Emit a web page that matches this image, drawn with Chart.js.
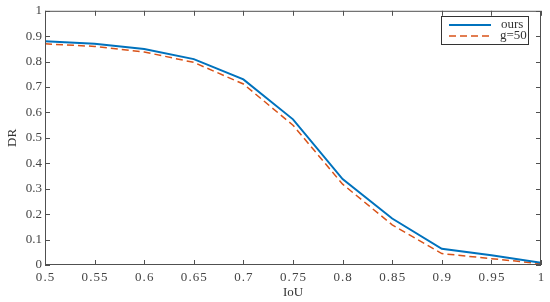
<!DOCTYPE html>
<html>
<head>
<meta charset="utf-8">
<script src="https://cdn.jsdelivr.net/npm/chart.js@4/dist/chart.umd.min.js"></script>
<style>
  html, body { margin: 0; padding: 0; background: #fff; }
  #wrap { width: 550px; height: 302px; }
</style>
</head>
<body>
<div id="wrap"><canvas id="chartCanva" width="550" height="302"></canvas></div>
<script>
var iouValues = [0.5, 0.55, 0.6, 0.65, 0.7, 0.75, 0.8, 0.85, 0.9, 0.95, 1];
var oursDR = [0.88, 0.87, 0.85, 0.81, 0.73, 0.573, 0.338, 0.183, 0.064, 0.038, 0.009];
var g50DR = [0.87, 0.86, 0.838, 0.797, 0.712, 0.55, 0.318, 0.158, 0.045, 0.025, 0.005];
var seriesNames = ['ours', 'g=50'];
var axisColor = '#505050';
var serif = 'Liberation Serif';

function toPoints(ys) {
    return iouValues.map(function (x, i) { return { x: x, y: ys[i] }; });
}

// box round the plot plus inward ticks on all four sides (matlab look)
var boxPlugin = {
    id: 'boxTicks',
    afterDraw: function (chart) {
        var c = chart.ctx, a = chart.chartArea;
        var xs = chart.scales.x, ys = chart.scales.y;
        c.save();
        c.strokeStyle = axisColor;
        c.lineWidth = 1;
        c.strokeRect(a.left + 0.5, a.top + 0.5, a.right - a.left - 1, a.bottom - a.top - 1);
        c.beginPath();
        xs.ticks.forEach(function (t) {
            var px = Math.round(xs.getPixelForValue(t.value)) + 0.5;
            c.moveTo(px, a.bottom); c.lineTo(px, a.bottom - 5);
            c.moveTo(px, a.top); c.lineTo(px, a.top + 5);
        });
        ys.ticks.forEach(function (t) {
            var py = Math.round(ys.getPixelForValue(t.value)) + 0.5;
            c.moveTo(a.left, py); c.lineTo(a.left + 5, py);
            c.moveTo(a.right, py); c.lineTo(a.right - 5, py);
        });
        c.stroke();

        // legend box
        var lx = 441, ly = 16, lw = 87, lh = 28;
        c.fillStyle = '#fff';
        c.fillRect(lx, ly, lw, lh);
        c.strokeStyle = '#333';
        c.strokeRect(lx + 0.5, ly + 0.5, lw, lh);
        chart.data.datasets.forEach(function (ds, i) {
            var yy = ly + 9 + i * 11;
            c.beginPath();
            c.strokeStyle = ds.borderColor;
            c.lineWidth = ds.borderWidth;
            c.setLineDash(ds.borderDash || []);
            c.moveTo(lx + 8, yy); c.lineTo(lx + 50, yy);
            c.stroke();
            c.setLineDash([]);
            c.fillStyle = '#333';
            c.font = '13px "' + serif + '", serif';
            c.textBaseline = 'middle';
            c.textAlign = 'left';
            c.fillText(ds.label, lx + (i === 0 ? 60 : 59), yy);
        });
        c.restore();
    }
};

const config = {
    type: 'line',
    data: {
        datasets: [{
            label: seriesNames[0],
            data: toPoints(oursDR),
            borderColor: '#0072BD',
            borderWidth: 2,
            pointRadius: 0,
            tension: 0,
            fill: false
        }, {
            label: seriesNames[1],
            data: toPoints(g50DR),
            borderColor: '#D95319',
            borderWidth: 1.5,
            borderDash: [7, 4],
            pointRadius: 0,
            tension: 0,
            fill: false
        }]
    },
    options: {
        responsive: false,
        animation: false,
        font: { family: serif },
        layout: { padding: { top: 6, right: 9, left: 0, bottom: 0 } },
        plugins: {
            legend: { display: false },
            tooltip: { enabled: false }
        },
        scales: {
            x: {
                type: 'linear',
                min: 0.5,
                max: 1,
                afterFit: function (s) { s.height = 37; },
                ticks: {
                    stepSize: 0.05,
                    color: '#444',
                    padding: 5,
                    font: { family: serif, size: 13 },
                    callback: function (v) { return String(Math.round(v * 100) / 100).split('').join('\u200A'); }
                },
                grid: { display: false, drawTicks: false },
                border: { display: false },
                title: {
                    display: true,
                    text: 'IoU',
                    color: '#333',
                    font: { family: serif, size: 13 },
                    padding: { top: 0, bottom: 2 }
                }
            },
            y: {
                min: 0,
                max: 1,
                afterFit: function (s) { s.width = 45; },
                ticks: {
                    stepSize: 0.1,
                    color: '#444',
                    padding: 3,
                    font: { family: serif, size: 13 },
                    callback: function (v) { return String(Math.round(v * 10) / 10); }
                },
                grid: { display: false, drawTicks: false },
                border: { display: false },
                title: {
                    display: true,
                    text: 'DR',
                    color: '#333',
                    font: { family: serif, size: 13 },
                    padding: { top: 5, bottom: 0 }
                }
            }
        }
    },
    plugins: [boxPlugin]
};

var myChart = new Chart(document.getElementById('chartCanva'), config);
</script>
</body>
</html>
